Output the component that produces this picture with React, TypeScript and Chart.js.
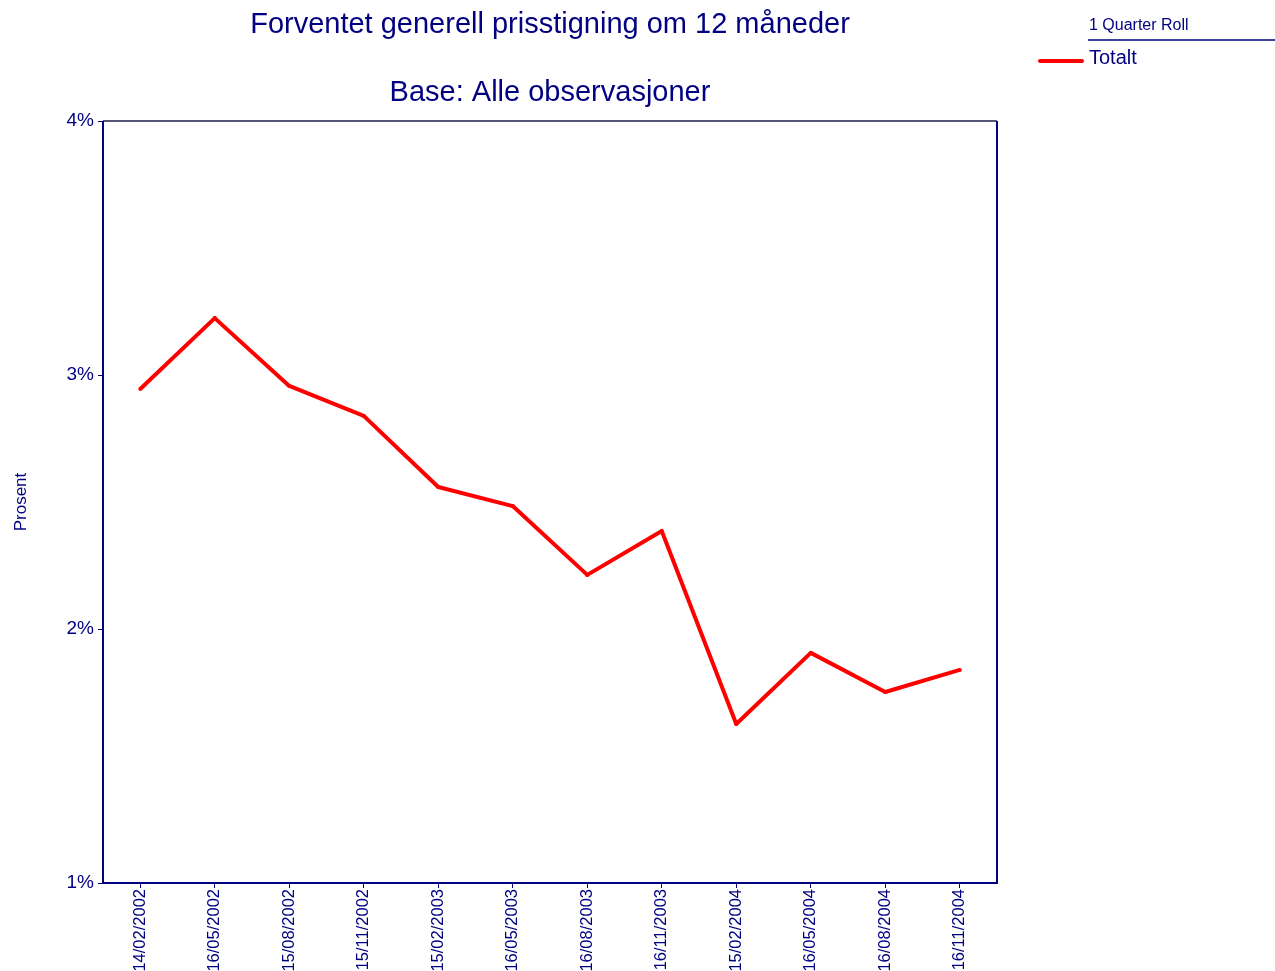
import React, { useEffect, useRef } from "react";
import { Chart, registerables } from "chart.js";

Chart.register(...registerables);

const categories = [
  "14/02/2002", "16/05/2002", "15/08/2002", "15/11/2002",
  "15/02/2003", "16/05/2003", "16/08/2003", "16/11/2003",
  "15/02/2004", "16/05/2004", "16/08/2004", "16/11/2004",
];
const totalt = [2.945, 3.224, 2.957, 2.839, 2.559, 2.484, 2.213, 2.386, 1.626, 1.906, 1.752, 1.839];
const yTicks = [1, 2, 3, 4];
const titleText = "Forventet generell prisstigning om 12 måneder";
const subtitleText = "Base: Alle observasjoner";
const legendHeader = "1 Quarter Roll";
const seriesName = "Totalt";

const NAVY = "#000080";
const FONT = "'Liberation Sans', Arial, sans-serif";

export default function App() {
  const ref = useRef<HTMLCanvasElement | null>(null);
  useEffect(() => {
    if (!ref.current) return;
    const decor = {
      id: "decor",
      afterDraw(chart: any) {
        const { ctx, chartArea } = chart;
        ctx.save();
        // titles
        ctx.fillStyle = NAVY;
        ctx.textAlign = "center";
        ctx.textBaseline = "middle";
        ctx.font = `29px ${FONT}`;
        ctx.fillText(titleText, 550, 25);
        ctx.fillText(subtitleText, 550, 93);
        // frame
        ctx.lineWidth = 2;
        ctx.strokeStyle = "#555577";
        ctx.beginPath();
        ctx.moveTo(chartArea.left, chartArea.top);
        ctx.lineTo(chartArea.right, chartArea.top);
        ctx.stroke();
        ctx.strokeStyle = NAVY;
        ctx.beginPath();
        ctx.moveTo(chartArea.left, chartArea.top);
        ctx.lineTo(chartArea.left, chartArea.bottom);
        ctx.lineTo(chartArea.right, chartArea.bottom);
        ctx.lineTo(chartArea.right, chartArea.top);
        ctx.stroke();
        // legend
        ctx.textAlign = "left";
        ctx.font = `16px ${FONT}`;
        ctx.fillText(legendHeader, 1089, 26);
        ctx.lineWidth = 1.5;
        ctx.beginPath();
        ctx.moveTo(1088, 40);
        ctx.lineTo(1275, 40);
        ctx.stroke();
        ctx.font = `20px ${FONT}`;
        ctx.fillText(seriesName, 1089, 58);
        ctx.strokeStyle = "#ff0000";
        ctx.lineWidth = 4;
        ctx.lineCap = "round";
        ctx.beginPath();
        ctx.moveTo(1040, 61);
        ctx.lineTo(1082, 61);
        ctx.stroke();
        ctx.restore();
      },
    };
    const chart = new Chart(ref.current, {
      type: "line",
      data: {
        labels: categories,
        datasets: [
          {
            label: seriesName,
            data: totalt,
            borderColor: "#ff0000",
            backgroundColor: "#ff0000",
            borderWidth: 4,
            pointRadius: 2,
            pointBorderWidth: 0,
            borderJoinStyle: "round",
            tension: 0,
          },
        ],
      },
      options: {
        responsive: false,
        animation: false,
        layout: { padding: { left: 0, right: 278, top: 121, bottom: 0 } },
        plugins: { legend: { display: false }, title: { display: false }, tooltip: { enabled: false } },
        scales: {
          x: {
            offset: true,
            grid: { drawOnChartArea: false, drawTicks: true, tickLength: 5, color: NAVY, offset: false },
            border: { display: false },
            ticks: {
              color: NAVY,
              font: { family: FONT, size: 16.5 },
              minRotation: 90,
              maxRotation: 90,
              padding: 1,
              autoSkip: false,
            },
            afterFit(scale: any) {
              scale.height = 88;
            },
          },
          y: {
            min: 1,
            max: 4,
            afterBuildTicks(scale: any) {
              scale.ticks = yTicks.map((v) => ({ value: v }));
            },
            grid: { drawOnChartArea: false, drawTicks: true, tickLength: 5, color: NAVY },
            border: { display: false },
            ticks: {
              color: NAVY,
              font: { family: FONT, size: 19 },
              padding: 4,
              callback: (v: any) => `${v}%`,
            },
            title: {
              display: true,
              text: "Prosent",
              color: NAVY,
              font: { family: FONT, size: 17 },
              padding: { top: 11, bottom: 0 },
            },
            afterFit(scale: any) {
              scale.width = 103;
            },
          },
        },
      },
      plugins: [decor],
    });
    return () => chart.destroy();
  }, []);
  return (
    <canvas
      ref={ref}
      width={1275}
      height={971}
      style={{ position: "fixed", left: 0, top: 0, width: 1275, height: 971, background: "#fff" }}
    />
  );
}
